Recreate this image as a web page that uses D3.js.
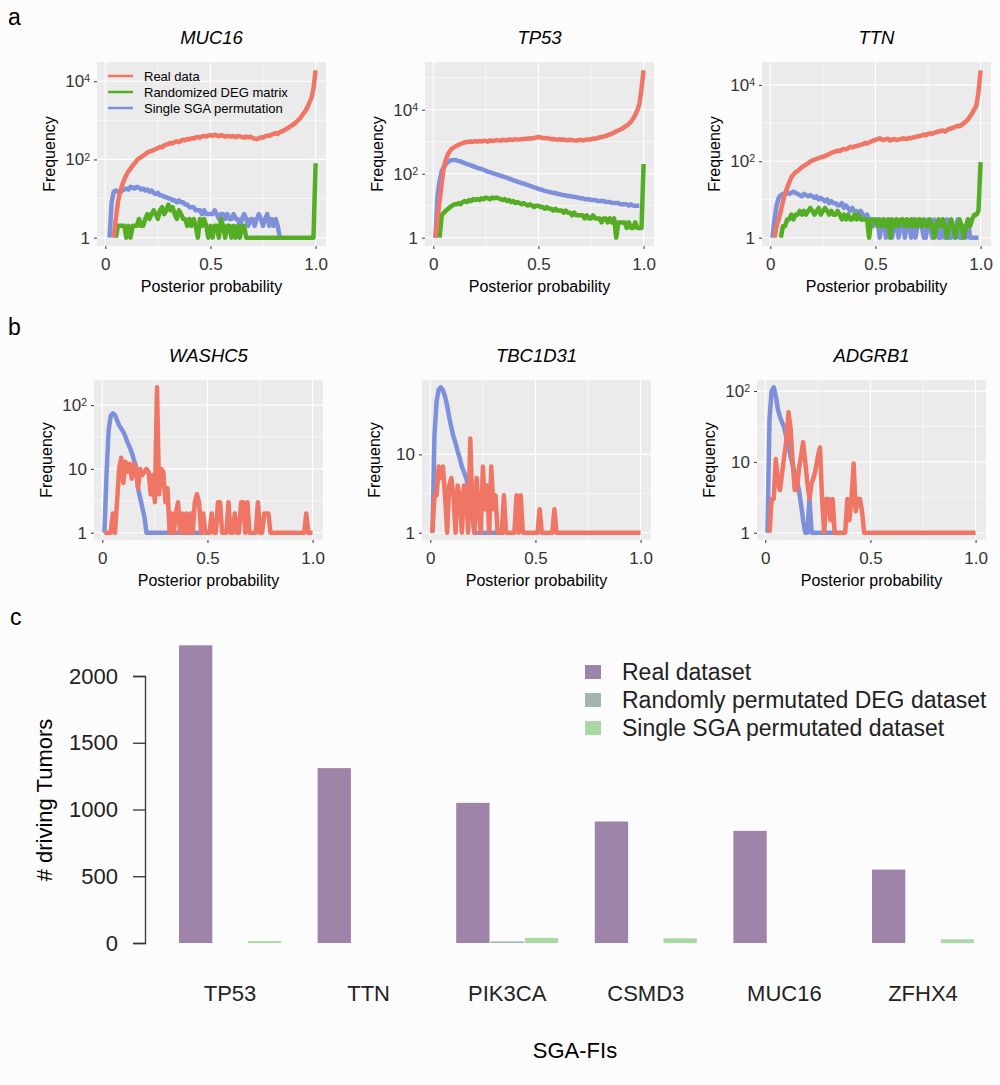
<!DOCTYPE html>
<html>
<head>
<meta charset="utf-8">
<script src="https://cdn.jsdelivr.net/npm/d3@7"></script>
<style>
  body { margin: 0; background: #fcfcfc; }
  text { font-family: "Liberation Sans", Arial, sans-serif; }
</style>
</head>
<body>
<div id="fig"></div>
<script>
// posterior probability bin centres (x of every histogram)
var bins = [0.01,0.02,0.03,0.04,0.05,0.06,0.07,0.08,0.09,0.10,
  0.11,0.12,0.13,0.14,0.15,0.16,0.17,0.18,0.19,0.20,
  0.21,0.22,0.23,0.24,0.25,0.26,0.27,0.28,0.29,0.30,
  0.31,0.32,0.33,0.34,0.35,0.36,0.37,0.38,0.39,0.40,
  0.41,0.42,0.43,0.44,0.45,0.46,0.47,0.48,0.49,0.50,
  0.51,0.52,0.53,0.54,0.55,0.56,0.57,0.58,0.59,0.60,
  0.61,0.62,0.63,0.64,0.65,0.66,0.67,0.68,0.69,0.70,
  0.71,0.72,0.73,0.74,0.75,0.76,0.77,0.78,0.79,0.80,
  0.81,0.82,0.83,0.84,0.85,0.86,0.87,0.88,0.89,0.90,
  0.91,0.92,0.93,0.94,0.95,0.96,0.97,0.98,0.99,1.00];

// panel a: frequencies (null = no bar in that bin)
var muc16Real = [null,null,null,1,3,8,15,22,30,40,
  50,58,70,80,95,105,115,125,135,150,
  160,165,175,185,195,210,205,230,240,250,
  265,255,280,290,275,300,320,310,335,330,
  350,340,365,380,360,390,400,385,410,420,
  400,430,410,395,420,405,380,400,390,385,
  395,370,400,390,375,360,385,370,380,360,
  340,330,350,370,360,390,410,400,430,450,
  470,450,500,520,560,600,640,700,760,820,
  920,1050,1200,1450,1700,2100,2800,3700,6500,19000];
var muc16Deg = [null,null,null,null,1,2,2,2,2,1,
  2,1,2,2,2,3,2,2,3,4,
  3,4,5,4,3,5,6,4,5,7,
  5,6,4,3,5,4,3,3,2,3,
  2,3,2,1,3,2,3,2,1,2,
  1,2,2,1,3,2,1,2,2,1,
  2,1,2,1,2,2,1,1,1,1,
  1,1,1,1,1,1,1,1,1,1,
  1,1,1,1,1,1,1,1,1,1,
  1,1,1,1,1,1,1,1,1,80];
var muc16Sga = [null,1,8,15,16,15,14,16,17,18,
  17,20,19,18,20,19,17,18,16,17,
  15,16,14,13,14,12,12,11,11,10,
  10,9,9,8,9,8,8,7,7,6,
  6,6,5,5,5,4,5,4,4,4,
  4,5,4,3,4,4,3,4,3,3,
  4,3,3,2,3,4,3,2,3,3,
  2,3,4,3,2,3,4,2,3,2,
  3,2,1,1,null,null,null,null,null,null,
  null,null,null,null,null,null,null,null,null,null];

var tp53Real = [1,4,14,50,160,280,415,520,620,680,
  740,800,850,900,960,980,1000,1020,990,1040,
  1000,1050,1020,1080,1060,1000,1100,1050,1080,1120,
  1100,1080,1150,1120,1100,1180,1150,1130,1200,1160,
  1180,1220,1200,1250,1230,1280,1260,1300,1350,1400,
  1350,1300,1280,1320,1250,1200,1220,1180,1150,1200,
  1150,1180,1120,1100,1150,1130,1100,1080,1120,1150,
  1100,1130,1180,1150,1200,1250,1230,1300,1350,1400,
  1450,1500,1600,1700,1800,1950,2100,2250,2400,2600,
  2900,3200,3600,4200,5200,6800,9500,15000,45000,170000];
var tp53Deg = [null,null,1,5,6,7,8,9,10,11,
  11,12,11,13,14,13,15,14,16,15,
  16,15,17,16,18,17,16,18,17,18,
  17,16,15,16,14,15,13,14,12,13,
  12,11,12,11,10,11,10,9,10,10,
  9,9,8,9,8,8,7,8,7,7,
  7,6,7,6,6,5,6,5,5,5,
  5,4,5,4,4,5,4,4,4,3,
  4,4,3,4,3,4,1,3,3,3,
  3,2,3,2,2,3,2,2,2,200];
var tp53Sga = [1,20,60,120,160,200,235,255,265,270,
  262,250,242,225,212,200,192,180,172,160,
  152,145,140,130,124,115,112,104,100,95,
  91,86,83,78,75,70,67,62,60,56,
  54,50,49,46,44,41,40,37,36,33,
  32,31,29,28,27,26,25,25,23,23,
  22,21,21,20,20,19,19,18,18,17,
  17,16,16,16,15,15,15,14,14,14,
  14,13,13,13,12,12,12,12,11,11,
  11,11,10,11,10,10,10,10,null,null];

var ttnReal = [null,1,2,3,5,9,14,20,28,38,
  45,51,56,62,70,76,82,90,98,105,
  110,115,120,128,130,138,145,155,165,175,
  180,190,185,200,210,205,220,240,230,245,
  250,260,270,280,300,290,310,330,350,360,
  380,400,370,360,380,390,350,370,380,360,
  370,380,400,390,380,410,400,420,430,450,
  460,470,500,480,520,540,520,560,580,600,
  620,640,600,650,700,720,760,800,850,820,
  900,980,1100,1250,1500,1800,2300,2900,6400,24000];
var ttnDeg = [null,null,null,null,1,2,2,3,3,4,
  3,4,4,5,4,5,4,5,6,5,
  4,5,6,4,5,6,5,4,5,4,
  4,5,4,3,4,3,4,3,3,4,
  3,4,3,3,3,3,1,3,3,3,
  2,3,2,3,2,3,1,3,2,3,
  2,3,3,2,3,2,3,2,3,2,
  3,2,3,2,2,3,2,1,2,3,
  2,3,2,1,2,3,2,1,2,3,
  2,1,2,3,2,3,4,4,5,95];
var ttnSga = [1,3,7,11,13,14,14,15,14,15,
  16,15,14,13,12,14,13,12,13,12,
  11,12,10,11,10,9,10,8,9,8,
  8,7,7,8,6,7,6,5,6,5,
  5,4,5,4,3,4,3,3,2,3,
  3,1,2,3,1,2,3,1,2,3,
  1,2,3,1,3,2,1,3,1,2,
  3,2,1,1,3,2,1,3,2,1,
  1,3,1,3,1,1,2,1,3,1,
  1,2,1,3,1,1,1,1,1,null];

// panel b: frequencies
var washc5Real = [1,1,1,1,2,1,3,10,15,6,
  13,9,12,7,12,10,5,10,8,9,
  10,9,4,8,3,190,4,10,9,3,
  5,1,2,1,2,3,1,2,1,2,
  1,2,1,3,4,3,1,2,1,1,
  1,2,1,1,3,3,1,1,1,3,
  1,1,2,1,1,3,3,1,3,1,
  1,1,1,3,1,1,2,2,2,1,
  1,1,1,1,1,1,1,1,1,1,
  1,1,1,1,1,1,2,1,1,1];
var washc5Sga = [1,8,40,68,74,70,58,48,43,38,
  32,26,22,18,14,11,5,3.5,2.5,1.8,
  1,1,1,1,1,1,1,1,1,1,
  1,1,1,1,1,1,1,1,1,1,
  1,1,1,1,1,1,1,1,null,null,
  null,null,null,null,null,null,null,null,null,null,
  null,null,null,null,null,null,null,null,null,null,
  null,null,null,null,null,null,null,null,null,null,
  null,null,null,null,null,null,null,null,null,null,
  null,null,null,null,null,null,null,null,null,null];

var tbc1d31Real = [1,3,3,7,5,7,3,1,4,5,
  3,1,4,3,1,4,3,1,16,2,
  1,5,2,1,7,2,4,1,7,2,
  3,1,1,1,3,1,1,1,1,1,
  3,1,3,1,1,1,1,1,1,1,
  1,2,1,1,1,1,1,1,2,1,
  1,1,1,1,1,1,1,1,1,1,
  1,1,1,1,1,1,1,1,1,1,
  1,1,1,1,1,1,1,1,1,1,
  1,1,1,1,1,1,1,1,1,1];
var tbc1d31Sga = [1,18,48,67,72,66,55,42,30,22,
  17,14,11,9,7,6,5,4,2.5,1.5,
  1,1,1,1,1,1,1,1,1,1,
  1,1,1,1,1,null,null,null,null,null,
  null,null,null,null,null,null,null,null,null,null,
  null,null,null,null,null,null,null,null,null,null,
  null,null,null,null,null,null,null,null,null,null,
  null,null,null,null,null,null,null,null,null,null,
  null,null,null,null,null,null,null,null,null,null,
  null,null,null,null,null,null,null,null,null,null];

var adgrb1Real = [null,1,3,3,11,5,4,7,12,20,
  50,30,10,4,4,8,12,19,10,5,
  3,5,6,8,12,16,3,1,3,3,
  1.5,3,1,1,1,1,1,1,3,1.5,
  3,9.5,2,3,3,2,1,1,1,1,
  1,1,1,1,1,1,1,1,1,1,
  1,1,1,1,1,1,1,1,1,1,
  1,1,1,1,1,1,1,1,1,1,
  1,1,1,1,1,1,1,1,1,1,
  1,1,1,1,1,1,1,1,1,1];
var adgrb1Sga = [1,40,100,113,85,55,43,36,30,22,
  17,12,9,7,5.5,4,2.5,1.5,1,1,
  3,1,1,1,1,1,1,1,1,1,
  1,1,1,null,null,null,null,null,null,null,
  null,null,null,null,null,null,null,null,null,null,
  null,null,null,null,null,null,null,null,null,null,
  null,null,null,null,null,null,null,null,null,null,
  null,null,null,null,null,null,null,null,null,null,
  null,null,null,null,null,null,null,null,null,null,
  null,null,null,null,null,null,null,null,null,null];

var histLegend = ["Real data", "Randomized DEG matrix", "Single SGA permutation"];

// panel c: number of driving tumors
var sgaGenes = ["TP53", "TTN", "PIK3CA", "CSMD3", "MUC16", "ZFHX4"];
var realDataset = [2230, 1310, 1050, 910, 840, 550];
var degDataset = [0, 0, 12, 0, 0, 0];
var sgaDataset = [14, 0, 38, 35, 0, 28];
var barSeries = ["Real dataset", "Randomly permutated DEG dataset", "Single SGA permutated dataset"];
var yTicksC = [0, 500, 1000, 1500, 2000];

var colReal = "#ef7565", colDeg = "#54ad23", colSga = "#7f90da";
var barColors = ["#9d84a8", "#a2b5b0", "#a9d9a3"];

var svg = d3.select("#fig").append("svg")
    .attr("width", 1000)
    .attr("height", 1085);

var panelW = 229;

var panels = [
  {title: "MUC16", left: 97, top: 62, h: 184, yMajor: [1, 1e2, 1e4], yMinor: [10, 1e3],
   lines: [[muc16Sga, colSga], [muc16Deg, colDeg], [muc16Real, colReal]], legend: true},
  {title: "TP53", left: 425, top: 62, h: 184, yMajor: [1, 1e2, 1e4], yMinor: [10, 1e3, 1e5],
   lines: [[tp53Sga, colSga], [tp53Deg, colDeg], [tp53Real, colReal]]},
  {title: "TTN", left: 762, top: 62, h: 184, yMajor: [1, 1e2, 1e4], yMinor: [10, 1e3],
   lines: [[ttnSga, colSga], [ttnDeg, colDeg], [ttnReal, colReal]]},
  {title: "WASHC5", left: 94, top: 380, h: 160, yMajor: [1, 10, 100], yMinor: [Math.sqrt(10), Math.sqrt(1000)],
   lines: [[washc5Sga, colSga], [washc5Real, colReal]]},
  {title: "TBC1D31", left: 422, top: 380, h: 160, yMajor: [1, 10], yMinor: [Math.sqrt(10)],
   lines: [[tbc1d31Sga, colSga], [tbc1d31Real, colReal]]},
  {title: "ADGRB1", left: 757, top: 380, h: 160, yMajor: [1, 10, 100], yMinor: [Math.sqrt(10), Math.sqrt(1000)],
   lines: [[adgrb1Sga, colSga], [adgrb1Real, colReal]]}
];

function powLabel(sel) {
  sel.each(function(d) {
    var t = d3.select(this).text("");
    var e = Math.round(Math.log10(d));
    if (e === 0) { t.text("1"); return; }
    if (e === 1) { t.text("10"); return; }
    t.append("tspan").text("10");
    t.append("tspan").attr("dy", "-0.45em").attr("font-size", "0.62em").text(e);
  });
}

panels.forEach(function(p) {
  var g = svg.append("g");
  var vals = [];
  p.lines.forEach(function(l) { l[0].forEach(function(v) { if (v != null) vals.push(v); }); });
  var hi = Math.log10(d3.max(vals)), pad = hi * 0.05;

  var x = d3.scaleLinear().domain([-0.0395, 1.0495]).range([p.left, p.left + panelW]);
  var y = d3.scaleLog().domain([Math.pow(10, -pad), Math.pow(10, hi + pad)]).range([p.top + p.h, p.top]);

  g.append("rect")
    .attr("x", p.left).attr("y", p.top)
    .attr("width", panelW).attr("height", p.h)
    .attr("fill", "#ebebeb");

  // grid
  g.selectAll(".ymin").data(p.yMinor).enter().append("line")
    .attr("x1", p.left).attr("x2", p.left + panelW)
    .attr("y1", function(d) { return y(d); }).attr("y2", function(d) { return y(d); })
    .attr("stroke", "#fff").attr("stroke-width", 0.6);
  g.selectAll(".xmin").data([0.25, 0.75]).enter().append("line")
    .attr("y1", p.top).attr("y2", p.top + p.h)
    .attr("x1", function(d) { return x(d); }).attr("x2", function(d) { return x(d); })
    .attr("stroke", "#fff").attr("stroke-width", 0.6);
  g.selectAll(".ymaj").data(p.yMajor).enter().append("line")
    .attr("x1", p.left).attr("x2", p.left + panelW)
    .attr("y1", function(d) { return y(d); }).attr("y2", function(d) { return y(d); })
    .attr("stroke", "#fff").attr("stroke-width", 1.2);
  g.selectAll(".xmaj").data([0, 0.5, 1]).enter().append("line")
    .attr("y1", p.top).attr("y2", p.top + p.h)
    .attr("x1", function(d) { return x(d); }).attr("x2", function(d) { return x(d); })
    .attr("stroke", "#fff").attr("stroke-width", 1.2);

  // histogram lines
  var line = d3.line()
    .defined(function(d) { return d != null; })
    .x(function(d, i) { return x(bins[i]); })
    .y(function(d) { return y(d); });
  p.lines.forEach(function(l) {
    g.append("path")
      .datum(l[0])
      .attr("d", line)
      .attr("fill", "none")
      .attr("stroke", l[1])
      .attr("stroke-width", 4.5)
      .attr("stroke-linejoin", "round");
  });

  // axes
  var xa = g.append("g")
    .attr("transform", "translate(0," + (p.top + p.h) + ")")
    .call(d3.axisBottom(x).tickValues([0, 0.5, 1]).tickSize(3).tickPadding(9)
      .tickFormat(function(d) { return d === 0 ? "0" : d3.format(".1f")(d); }));
  var ya = g.append("g")
    .attr("transform", "translate(" + p.left + ",0)")
    .call(d3.axisLeft(y).tickValues(p.yMajor).tickSize(3).tickPadding(4));
  ya.selectAll(".tick text").call(powLabel);
  [xa, ya].forEach(function(a) {
    a.attr("font-size", 17).attr("font-family", null);
    a.select(".domain").remove();
    a.selectAll(".tick line").attr("stroke", "#333");
    a.selectAll(".tick text").attr("fill", "#333");
  });

  g.append("text")
    .attr("x", p.left + panelW / 2).attr("y", p.top - 18)
    .attr("text-anchor", "middle").attr("font-size", 18.5).attr("font-style", "italic")
    .text(p.title);
  g.append("text")
    .attr("x", p.left + panelW / 2).attr("y", p.top + p.h + 46)
    .attr("text-anchor", "middle").attr("font-size", 16)
    .text("Posterior probability");
  g.append("text")
    .attr("transform", "translate(" + (p.left - 42) + "," + (p.top + p.h / 2) + ") rotate(-90)")
    .attr("text-anchor", "middle").attr("font-size", 16)
    .text("Frequency");

  if (p.legend) {
    var lg = g.append("g").attr("transform", "translate(" + (p.left + 11) + "," + (p.top + 14) + ")");
    var lc = [colReal, colDeg, colSga];
    histLegend.forEach(function(name, i) {
      lg.append("line").attr("x1", 0).attr("x2", 25)
        .attr("y1", i * 16).attr("y2", i * 16)
        .attr("stroke", lc[i]).attr("stroke-width", 2.5);
      lg.append("text").attr("x", 36).attr("y", i * 16)
        .attr("dy", "0.35em").attr("font-size", 13)
        .text(name);
    });
  }
});

// panel letters
[["a", 8, 25], ["b", 8, 335], ["c", 10, 625]].forEach(function(l) {
  svg.append("text").attr("x", l[1]).attr("y", l[2]).attr("font-size", 23).text(l[0]);
});

// ---- panel c grouped bars
var x0 = d3.scaleBand().domain(sgaGenes).range([179, 974]).paddingInner(0.264);
var x1 = d3.scaleBand().domain([0, 1, 2]).range([0, x0.bandwidth()]).paddingInner(0.03);
var yc = d3.scaleLinear().domain([0, 2000]).range([943, 676]);
var barVals = [realDataset, degDataset, sgaDataset];

var cg = svg.append("g");
sgaGenes.forEach(function(gene, gi) {
  barVals.forEach(function(arr, si) {
    if (!arr[gi]) return;
    cg.append("rect")
      .attr("x", x0(gene) + x1(si))
      .attr("width", x1.bandwidth())
      .attr("y", yc(arr[gi]))
      .attr("height", yc(0) - yc(arr[gi]))
      .attr("fill", barColors[si]);
  });
});

var yAxC = cg.append("g")
  .attr("transform", "translate(145,0)")
  .call(d3.axisLeft(yc).tickValues(yTicksC).tickFormat(d3.format("d"))
    .tickSize(12).tickSizeOuter(12).tickPadding(15));
yAxC.attr("font-size", 22).attr("font-family", null);
yAxC.selectAll("path, line").attr("stroke", "#333").attr("stroke-width", 1.3);
yAxC.selectAll("text").attr("fill", "#222");

var xAxC = cg.append("g")
  .attr("transform", "translate(0,943)")
  .call(d3.axisBottom(x0).tickSize(0).tickPadding(42));
xAxC.select(".domain").remove();
xAxC.attr("font-size", 22).attr("font-family", null);
xAxC.selectAll("text").attr("fill", "#222");

cg.append("text")
  .attr("transform", "translate(52,800) rotate(-90)")
  .attr("text-anchor", "middle").attr("font-size", 22)
  .text("# driving Tumors");
cg.append("text")
  .attr("x", 575).attr("y", 1058)
  .attr("text-anchor", "middle").attr("font-size", 22)
  .text("SGA-FIs");

var leg = cg.append("g").attr("transform", "translate(585,672)");
barSeries.forEach(function(name, i) {
  leg.append("rect").attr("x", 0).attr("y", i * 28 - 7)
    .attr("width", 16).attr("height", 14).attr("fill", barColors[i]);
  leg.append("text").attr("x", 37).attr("y", i * 28)
    .attr("dy", "0.35em").attr("font-size", 23).attr("fill", "#222")
    .text(name);
});
</script>
</body>
</html>
